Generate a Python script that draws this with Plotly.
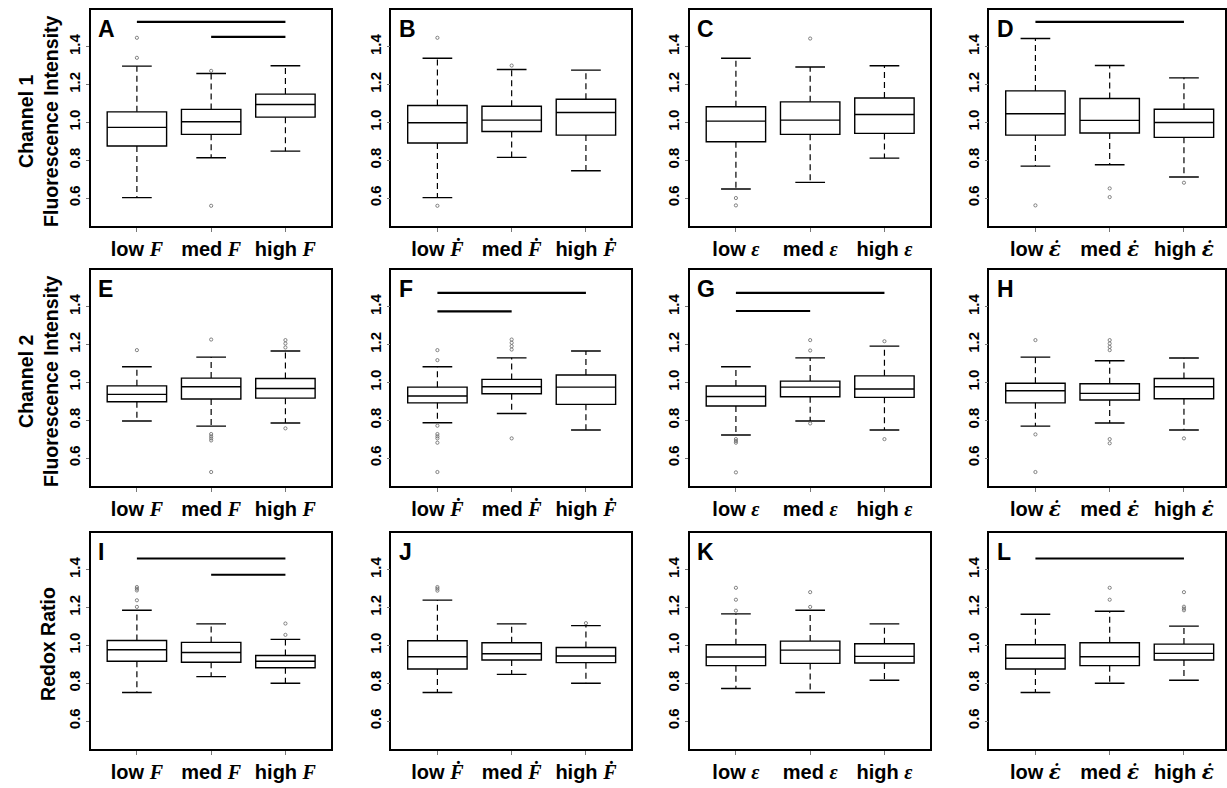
import plotly.graph_objects as go

# ---------------- data ----------------
PANEL_LETTERS = ["A", "B", "C", "D", "E", "F", "G", "H", "I", "J", "K", "L"]
ROW_TITLES = ["Channel 1<br>Fluorescence Intensity",
              "Channel 2<br>Fluorescence Intensity",
              "Redox Ratio"]
GROUP_POS = [1, 2, 3]
GROUP_WORDS = ["low", "med", "high"]
COLUMN_SYMBOLS = ["F", "F\u0307", "\u03b5", "\u03b5\u0307"]
SYMBOL_FONTS = ["Liberation Serif, serif", "Liberation Serif, DejaVu Serif, serif",
                "Liberation Serif, serif", "DejaVu Serif, serif"]

# per panel, per group (low, med, high)
WHISKER_LOW = [
    [0.602, 0.813, 0.848], [0.602, 0.815, 0.744], [0.648, 0.683, 0.811], [0.769, 0.776, 0.711],
    [0.796, 0.769, 0.785], [0.787, 0.836, 0.748], [0.722, 0.796, 0.748], [0.769, 0.785, 0.748],
    [0.751, 0.835, 0.800], [0.751, 0.847, 0.800], [0.772, 0.751, 0.816], [0.751, 0.800, 0.816],
]
Q1 = [
    [0.875, 0.937, 1.028], [0.891, 0.952, 0.933], [0.898, 0.937, 0.942], [0.933, 0.944, 0.921],
    [0.898, 0.912, 0.917], [0.892, 0.940, 0.884], [0.875, 0.924, 0.921], [0.892, 0.907, 0.914],
    [0.916, 0.911, 0.882], [0.875, 0.923, 0.909], [0.893, 0.905, 0.907], [0.875, 0.893, 0.923],
]
MEDIAN = [
    [0.974, 1.004, 1.095], [0.998, 1.012, 1.053], [1.007, 1.012, 1.042], [1.046, 1.011, 1.000],
    [0.937, 0.977, 0.968], [0.928, 0.977, 0.975], [0.926, 0.975, 0.965], [0.956, 0.942, 0.977],
    [0.977, 0.963, 0.916], [0.940, 0.956, 0.944], [0.939, 0.975, 0.942], [0.932, 0.940, 0.958],
]
Q3 = [
    [1.056, 1.069, 1.150], [1.090, 1.086, 1.123], [1.083, 1.109, 1.129], [1.167, 1.127, 1.070],
    [0.982, 1.023, 1.021], [0.975, 1.016, 1.039], [0.981, 1.007, 1.035], [0.996, 0.993, 1.021],
    [1.026, 1.016, 0.947], [1.025, 1.014, 0.989], [1.004, 1.023, 1.009], [1.004, 1.014, 1.007],
]
WHISKER_HIGH = [
    [1.298, 1.259, 1.300], [1.340, 1.280, 1.277], [1.340, 1.293, 1.300], [1.444, 1.301, 1.236],
    [1.083, 1.134, 1.166], [1.083, 1.130, 1.166], [1.083, 1.130, 1.192], [1.134, 1.115, 1.129],
    [1.186, 1.114, 1.032], [1.240, 1.114, 1.105], [1.167, 1.186, 1.114], [1.165, 1.181, 1.102],
]
OUTLIERS = [
    [[1.448, 1.342], [1.273, 0.559], []],
    [[1.448, 0.559], [1.301], []],
    [[0.600, 0.561], [1.444], []],
    [[0.561], [0.651, 0.605], [0.681]],
    [[1.171], [1.227, 0.727, 0.715, 0.704, 0.693, 0.526], [1.224, 1.206, 1.185, 0.757]],
    [[1.171, 1.118, 0.771, 0.727, 0.715, 0.704, 0.681, 0.526], [1.227, 1.210, 1.192, 1.174, 0.704], []],
    [[0.700, 0.690, 0.681, 0.524], [1.224, 1.169, 0.783], [1.218, 0.700]],
    [[1.224, 0.725, 0.526], [1.224, 1.206, 1.188, 1.171, 0.700, 0.678], [0.704]],
    [[1.309, 1.300, 1.291, 1.239, 1.204], [], [1.116, 1.056]],
    [[1.309, 1.300, 1.290], [], [1.118]],
    [[1.305, 1.242, 1.184], [1.282, 1.204], []],
    [[], [1.305, 1.242], [1.282, 1.205, 1.195, 1.186]],
]
# significance bars: (from group, to group, level)
SIG_BARS = [
    [(1, 3, 1.532), (2, 3, 1.453)], [], [], [(1, 3, 1.532)],
    [], [(1, 3, 1.474), (1, 2, 1.376)], [(1, 3, 1.474), (1, 2, 1.378)], [],
    [(1, 3, 1.460), (2, 3, 1.374)], [], [], [(1, 3, 1.460)],
]
Y_TICKS = [0.6, 0.8, 1.0, 1.2, 1.4]

# ---------------- layout geometry ----------------
W, H = 1227, 788
COL_PX = [(91, 332), (392, 632), (691, 932), (991, 1227)]
ROW_PX = [(10, 226), (270, 486), (533, 749)]
X_RANGE = [0.38, 3.62]
Y_RANGE = [0.452, 1.595]
PX_PER_UNIT = (332 - 91) / (X_RANGE[1] - X_RANGE[0])

SANS = "Liberation Sans, Arial, sans-serif"


def tick_label(word, sym, font):
    return (f"<b>{word} </b><span style='font-family:{font}'><b><i>{sym}</i></b></span>")


fig = go.Figure()
layout_axes = {}

for p, letter in enumerate(PANEL_LETTERS):
    r, c = divmod(p, 4)
    idx = p + 1
    xa = "x" if idx == 1 else f"x{idx}"
    ya = "y" if idx == 1 else f"y{idx}"
    xkey = "xaxis" if idx == 1 else f"xaxis{idx}"
    ykey = "yaxis" if idx == 1 else f"yaxis{idx}"

    x0, x1 = COL_PX[c]
    y0, y1 = ROW_PX[r]
    xr = [X_RANGE[0], X_RANGE[0] + (x1 - x0) / PX_PER_UNIT]

    # boxes
    fig.add_trace(go.Box(
        x=GROUP_POS, q1=Q1[p], median=MEDIAN[p], q3=Q3[p],
        lowerfence=Q1[p], upperfence=Q3[p],
        width=0.8, whiskerwidth=0, boxpoints=False,
        line=dict(color="black", width=1.4), fillcolor="white",
        xaxis=xa, yaxis=ya, showlegend=False, hoverinfo="skip"))

    # dashed whiskers and solid caps
    wx, wy = [], []
    cx, cy = [], []
    for g, pos in enumerate(GROUP_POS):
        wx += [pos, pos, None, pos, pos, None]
        wy += [Q3[p][g], WHISKER_HIGH[p][g], None, Q1[p][g], WHISKER_LOW[p][g], None]
        cx += [pos - 0.2, pos + 0.2, None, pos - 0.2, pos + 0.2, None]
        cy += [WHISKER_HIGH[p][g], WHISKER_HIGH[p][g], None,
               WHISKER_LOW[p][g], WHISKER_LOW[p][g], None]
    fig.add_trace(go.Scatter(x=wx, y=wy, mode="lines",
                             line=dict(color="black", width=1.2, dash="6px,4px"),
                             xaxis=xa, yaxis=ya, showlegend=False, hoverinfo="skip"))
    fig.add_trace(go.Scatter(x=cx, y=cy, mode="lines",
                             line=dict(color="black", width=1.4),
                             xaxis=xa, yaxis=ya, showlegend=False, hoverinfo="skip"))

    # outliers
    ox, oy = [], []
    for g, pos in enumerate(GROUP_POS):
        for v in OUTLIERS[p][g]:
            ox.append(pos)
            oy.append(v)
    if ox:
        fig.add_trace(go.Scatter(x=ox, y=oy, mode="markers",
                                 marker=dict(symbol="circle-open", size=3.2, color="#666",
                                             line=dict(width=0.8, color="#666")),
                                 xaxis=xa, yaxis=ya, showlegend=False, hoverinfo="skip"))

    # significance bars
    for (a, b, lvl) in SIG_BARS[p]:
        fig.add_trace(go.Scatter(x=[a, b], y=[lvl, lvl], mode="lines",
                                 line=dict(color="black", width=2.2),
                                 xaxis=xa, yaxis=ya, showlegend=False, hoverinfo="skip"))

    ticktext = [tick_label(w, COLUMN_SYMBOLS[c], SYMBOL_FONTS[c]) for w in GROUP_WORDS]
    layout_axes[xkey] = dict(
        domain=[x0 / W, min(x1 / W, 1.0)], anchor=ya, range=xr,
        tickvals=GROUP_POS, ticktext=ticktext,
        showline=True, mirror=True, linecolor="black", linewidth=1.5,
        ticks="outside", ticklen=4, tickcolor="#777", tickwidth=1,
        ticklabelstandoff=0,
        showgrid=False, zeroline=False, fixedrange=True,
        tickfont=dict(family=SANS, size=20, color="black"))
    layout_axes[ykey] = dict(
        domain=[1 - y1 / H, 1 - y0 / H], anchor=xa, range=Y_RANGE,
        tickvals=Y_TICKS, ticktext=[f"{v:.1f}" for v in Y_TICKS], tickangle=-90,
        showline=True, mirror=True, linecolor="black", linewidth=1.5,
        ticks="outside", ticklen=3, tickcolor="#777", tickwidth=1,
        showgrid=False, zeroline=False, fixedrange=True,
        tickfont=dict(family=SANS, size=15, color="black", weight="bold"))

annotations = []
for p, letter in enumerate(PANEL_LETTERS):
    idx = p + 1
    xa = "x" if idx == 1 else f"x{idx}"
    ya = "y" if idx == 1 else f"y{idx}"
    annotations.append(dict(text=f"<b>{letter}</b>", xref=f"{xa} domain", yref=f"{ya} domain",
                            x=0.022, y=0.91, xanchor="left", yanchor="middle", showarrow=False,
                            font=dict(family=SANS, size=23, color="black")))

ROW_TITLE_X = [38, 38, 48]
for r, title in enumerate(ROW_TITLES):
    y0, y1 = ROW_PX[r]
    annotations.append(dict(text=f"<b>{title}</b>", xref="paper", yref="paper",
                            x=ROW_TITLE_X[r] / W, y=1 - ((y0 + y1) / 2 + 3) / H,
                            xanchor="center", yanchor="middle", textangle=-90, showarrow=False,
                            font=dict(family=SANS, size=19.5, color="black")))

fig.update_layout(
    width=W, height=H, margin=dict(l=0, r=0, t=0, b=0),
    paper_bgcolor="white", plot_bgcolor="white",
    showlegend=False, boxmode="overlay",
    annotations=annotations, **layout_axes)

fig.write_html("out.html")
